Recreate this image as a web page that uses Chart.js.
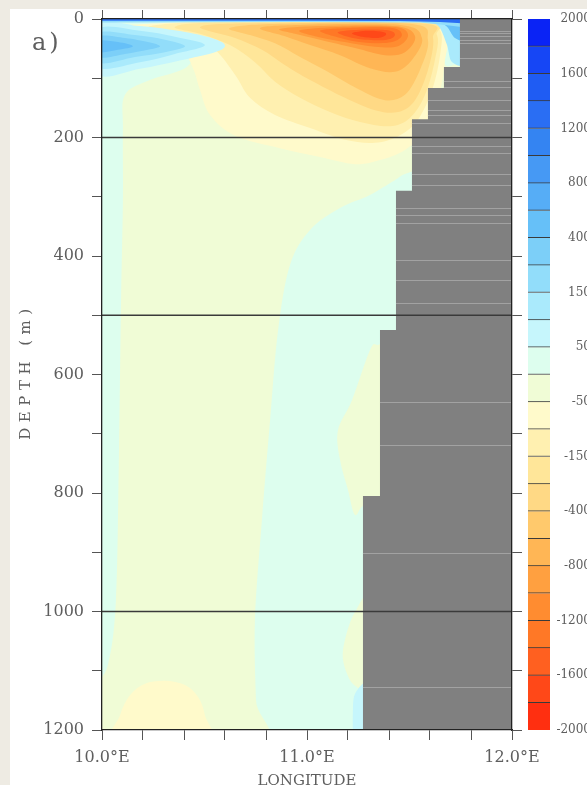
<!DOCTYPE html>
<html>
<head>
<meta charset="utf-8">
<script src="https://cdn.jsdelivr.net/npm/chart.js@4.4.1/dist/chart.umd.min.js"></script>
<style>
  html, body { margin: 0; padding: 0; width: 587px; height: 785px; overflow: hidden; background: #eeebe3; }
  #panel { position: absolute; left: 10px; top: 9px; width: 600px; height: 800px; background: #ffffff; }
  #main { position: absolute; left: 0; top: 0; }
  #bar { position: absolute; left: 518px; top: -9px; }
</style>
</head>
<body>
<div id="panel">
  <canvas id="main" width="560" height="790"></canvas>
  <canvas id="bar" width="70" height="790"></canvas>
</div>
<script>
// ---- contour levels of the section (colour bar boundaries, top to bottom) ----
const levelBounds = [2000, 1800, 1600, 1400, 1200, 1000, 800, 600, 400, 250, 150, 100, 50, 0,
  -50, -100, -150, -250, -400, -600, -800, -1000, -1200, -1400, -1600, -1800, -2000];
const colorbarLabels = ['2000', '1600', '1200', '800', '400', '150', '50', '-50', '-150',
  '-400', '-800', '-1200', '-1600', '-2000'];

// ---- axis ticks ----
const lonLabelValues = [10, 11, 12];
const lonLabels = ['10.0°E', '11.0°E', '12.0°E'];
const depthLabelValues = [0, 200, 400, 600, 800, 1000, 1200];
const refDepths = [200, 500, 1000];

// ---- bottom topography (stepped land mask): depth where each step starts, and its western edge ----
const landStepDepth = [0, 81, 116.5, 169, 290, 525, 805];
const landStepLon = [11.746, 11.668, 11.590, 11.512, 11.434, 11.356, 11.273];
const landLevelDepths = [20, 24, 29, 35, 40, 66, 105, 115, 137, 154, 162, 176, 214, 226, 262, 280,
  319, 331, 344, 407, 440, 479, 646, 719, 901, 1127];

// ---- contour regions [longitude, depth] ----
const below0Main = [[10.112,128],[10.234,103],[10.405,83],[10.478,52],[10.624,19],[10.966,5],[11.551,5],
  [11.649,15],[11.683,44],[11.678,79],[11.795,86],[11.795,238],[11.512,258],[11.429,272],[11.307,297],
  [11.161,319],[11.015,356],[10.917,415],[10.859,525],[10.820,677],[10.780,846],[10.746,1014],
  [10.751,1149],[10.761,1217],[9.966,1217],[9.966,1132],[10.029,1090],[10.068,981],[10.083,727],
  [10.093,474],[10.102,305],[10.102,187]];
const below0Slope = [[11.307,559],[11.346,550],[11.429,559],[11.429,812],[11.283,820],[11.234,837],
  [11.200,795],[11.161,744],[11.151,694],[11.220,643]];
const below0Deep = [[11.307,981],[11.234,1001],[11.185,1048],[11.176,1082],[11.210,1116],[11.259,1132],[11.317,1149]];

const below50 = [[10.078,12],[10.283,7],[10.576,4],[10.966,4],[11.454,4],[11.624,7],[11.688,27],[11.673,69],
  [11.649,120],[11.576,187],[11.478,221],[11.356,238],[11.234,245],[11.063,233],[10.868,218],[10.649,197],
  [10.527,162],[10.478,120],[10.444,83],[10.380,44],[10.283,27],[10.161,19]];
const below50Bottom = [[10.063,1225],[10.088,1175],[10.137,1141],[10.210,1122],[10.307,1117],[10.405,1124],
  [10.468,1144],[10.502,1175],[10.517,1225]];
const below100 = [[10.234,12],[10.478,5],[10.966,5],[11.551,5],[11.649,19],[11.649,61],[11.610,120],
  [11.541,170],[11.454,196],[11.332,209],[11.185,204],[11.015,184],[10.844,162],[10.722,133],[10.649,94],
  [10.551,52],[10.429,29],[10.307,19]];
const below150 = [[10.356,13.5],[10.576,6],[11.551,6],[11.634,27],[11.624,69],[11.576,128],[11.502,167],
  [11.405,181],[11.259,174],[11.112,157],[10.966,133],[10.844,106],[10.746,73],[10.624,44],[10.478,25]];
const below250 = [[10.478,13.5],[10.722,7],[11.551,7],[11.615,32],[11.590,86],[11.527,137],[11.444,157],
  [11.332,154],[11.185,133],[11.015,103],[10.893,78],[10.780,52],[10.649,32]];
const below400 = [[10.624,15],[10.868,8],[11.502,8],[11.590,35],[11.551,86],[11.478,128],[11.380,137],
  [11.259,120],[11.112,91],[10.966,64],[10.844,41],[10.722,27]];
const below600 = [[10.771,15],[10.966,10],[11.454,10],[11.561,32],[11.512,69],[11.429,89],[11.307,83],
  [11.161,61],[11.015,44],[10.893,29]];
const below800 = [[10.868,17],[11.063,12],[11.429,12],[11.527,29],[11.478,56],[11.380,61],[11.234,49],
  [11.063,35],[10.941,25]];
const below1000 = [[10.966,19],[11.161,13.5],[11.429,13.5],[11.493,27],[11.444,46],[11.332,47],[11.185,39],[11.039,29]];
const below1200 = [[11.063,20],[11.210,15],[11.415,15],[11.463,27],[11.415,39],[11.307,40.5],[11.185,34]];
const below1400 = [[11.151,22],[11.259,18],[11.395,19],[11.429,27],[11.390,35],[11.283,35],[11.200,30]];
const below1600 = [[11.220,24],[11.298,20],[11.371,22],[11.385,27],[11.346,32],[11.268,30]];

const above50West = [[9.980,10],[10.185,12],[10.405,22],[10.551,34],[10.600,45],[10.551,56],[10.380,70],[10.185,84],[9.980,93]];
const above100West = [[9.980,17],[10.185,20],[10.356,30],[10.502,44],[10.356,59],[10.185,73],[9.980,81]];
const above150West = [[9.980,24],[10.161,27],[10.307,35],[10.405,46],[10.307,56],[10.161,64],[9.980,73]];
const above250West = [[9.980,30],[10.112,32],[10.224,39],[10.283,46],[10.224,52],[10.112,59],[9.980,64]];
const above400West = [[9.980,37],[10.078,39],[10.151,46],[10.078,52],[9.980,56]];
const above50Deep = [[11.298,1126],[11.239,1136],[11.224,1166],[11.234,1225],[11.307,1225]];
const above100East = [[11.610,0],[11.771,0],[11.771,72.6],[11.707,72.6],[11.683,44],[11.649,15]];
const above400East = [[11.649,0],[11.771,0],[11.771,35],[11.722,32],[11.688,15]];
const above150Surface = [[9.966,-2],[11.795,-2],[11.795,15],[11.673,10],[11.551,6],[10.966,5],[10.000,6],[9.966,6]];
const above1200Surface = [[9.966,-2],[11.795,-2],[11.795,8],[11.649,5],[11.454,3.4],[10.966,3],[9.966,3]];

// ---- colour bar palette, one colour per band between consecutive levelBounds ----
const palette = ['#0a23f5', '#1646f5', '#1f5cf3', '#2a6ef3', '#3484f2', '#4699f4', '#56adf6', '#66c0f8',
  '#7ccff8', '#92ddfa', '#aaeafc', '#c6f6fc', '#ddfeee', '#f0fcd6', '#fffacb', '#fff0b0', '#ffe699',
  '#ffd985', '#ffc96c', '#ffb655', '#ffa040', '#ff8c30', '#ff7826', '#ff6020', '#ff4818', '#ff2f10'];

// colour of the band lying beyond a threshold (above for positive, below for negative/zero)
function bandBeyond(threshold, below) {
  for (let k = 0; k < levelBounds.length - 1; k++) {
    if (below && levelBounds[k] === threshold) return palette[k];
    if (!below && levelBounds[k + 1] === threshold) return palette[k];
  }
  return palette[12];
}

// drawing order of the filled contour regions
const regions = [
  {pts: below0Main, t: 0, below: true},
  {pts: below50, t: -50, below: true},
  {pts: below100, t: -100, below: true},
  {pts: below150, t: -150, below: true},
  {pts: below250, t: -250, below: true},
  {pts: below400, t: -400, below: true},
  {pts: below600, t: -600, below: true},
  {pts: below800, t: -800, below: true},
  {pts: below1000, t: -1000, below: true},
  {pts: below1200, t: -1200, below: true},
  {pts: below1400, t: -1400, below: true},
  {pts: below1600, t: -1600, below: true},
  {pts: below50Bottom, t: -50, below: true},
  {pts: below0Slope, t: 0, below: true},
  {pts: below0Deep, t: 0, below: true},
  {pts: above50West, t: 50, below: false},
  {pts: above100West, t: 100, below: false},
  {pts: above150West, t: 150, below: false},
  {pts: above250West, t: 250, below: false},
  {pts: above400West, t: 400, below: false},
  {pts: above50Deep, t: 50, below: false},
  {pts: above100East, t: 100, below: false},
  {pts: above400East, t: 400, below: false},
  {pts: above150Surface, t: 150, below: false, sharp: true},
  {pts: above1200Surface, t: 1200, below: false, sharp: true}
];

// land polygon from the stepped mask
const landOutline = [[12, -5], [landStepLon[0], -5]];
for (let k = 0; k < landStepDepth.length; k++) {
  const next = k + 1 < landStepDepth.length ? landStepDepth[k + 1] : 1205;
  landOutline.push([landStepLon[k], k === 0 ? -5 : landStepDepth[k]]);
  landOutline.push([landStepLon[k], next]);
}
landOutline.push([12.01, 1205], [12.01, -5]);

const TEXT = '#5e5e5e';
const SERIF = 'DejaVu Serif';

const datasets = regions.map(r => ({
  data: r.pts.map(p => ({x: p[0], y: p[1]})),
  region: true,
  smooth: !r.sharp,
  fillColor: bandBeyond(r.t, r.below),
  showLine: false, pointRadius: 0, pointHoverRadius: 0
}));
datasets.push({
  data: landOutline.map(p => ({x: p[0], y: p[1]})),
  region: true, smooth: false, fillColor: '#808080',
  showLine: false, pointRadius: 0, pointHoverRadius: 0
});
refDepths.forEach(d => datasets.push({
  data: [{x: 10, y: d}, {x: 12, y: d}],
  showLine: true, borderColor: '#3a3a3a', borderWidth: 1.3, pointRadius: 0, pointHoverRadius: 0
}));

// closed Catmull-Rom outline through the element positions
function tracePath(ctx, pts, smooth) {
  const n = pts.length;
  ctx.beginPath();
  ctx.moveTo(pts[0].x, pts[0].y);
  if (!smooth) {
    for (let i = 1; i < n; i++) ctx.lineTo(pts[i].x, pts[i].y);
    ctx.closePath();
    return;
  }
  for (let i = 0; i < n; i++) {
    const p0 = pts[(i - 1 + n) % n], p1 = pts[i], p2 = pts[(i + 1) % n], p3 = pts[(i + 2) % n];
    ctx.bezierCurveTo(p1.x + (p2.x - p0.x) / 6, p1.y + (p2.y - p0.y) / 6,
                      p2.x - (p3.x - p1.x) / 6, p2.y - (p3.y - p1.y) / 6, p2.x, p2.y);
  }
  ctx.closePath();
}

const fieldPlugin = {
  id: 'field',
  beforeDatasetsDraw(chart) {
    const {ctx, chartArea: a, scales} = chart;
    ctx.save();
    ctx.beginPath();
    ctx.rect(a.left, a.top, a.right - a.left, a.bottom - a.top);
    ctx.clip();
    ctx.fillStyle = bandBeyond(0, false);
    ctx.fillRect(a.left, a.top, a.right - a.left, a.bottom - a.top);
    chart.data.datasets.forEach((ds, i) => {
      if (!ds.region) return;
      tracePath(ctx, chart.getDatasetMeta(i).data, ds.smooth);
      ctx.fillStyle = ds.fillColor;
      ctx.fill();
    });
    // model level seams inside the land mask
    ctx.strokeStyle = 'rgba(190,190,190,0.55)';
    ctx.lineWidth = 1;
    landLevelDepths.forEach(d => {
      let k = 0;
      while (k + 1 < landStepDepth.length && landStepDepth[k + 1] <= d) k++;
      const py = Math.round(scales.y.getPixelForValue(d)) + 0.5;
      ctx.beginPath();
      ctx.moveTo(scales.x.getPixelForValue(landStepLon[k]), py);
      ctx.lineTo(scales.x.getPixelForValue(12), py);
      ctx.stroke();
    });
    ctx.restore();
  }
};

const textPlugin = {
  id: 'texts',
  afterDraw(chart) {
    const {ctx, chartArea: a} = chart;
    ctx.save();
    ctx.fillStyle = TEXT;
    ctx.font = '24px "' + SERIF + '"';
    ctx.textBaseline = 'alphabetic';
    ctx.letterSpacing = '3px';
    ctx.fillText('a)', 22, 41);
    ctx.font = '15px "' + SERIF + '"';
    ctx.letterSpacing = '5.5px';
    ctx.translate(16, (a.top + a.bottom) / 2);
    ctx.rotate(-Math.PI / 2);
    ctx.textAlign = 'center';
    ctx.textBaseline = 'middle';
    ctx.fillText('DEPTH (m)', 3, 0);
    ctx.restore();
  }
};

// fixed axis box sizes; tick labels may overhang the corners without shrinking the plot
function fixBox(size) {
  return s => {
    if (s.isHorizontal()) s.height = size; else s.width = size;
    s.paddingLeft = 0; s.paddingRight = 0; s.paddingTop = 0; s.paddingBottom = 0;
  };
}

const tickFont = {family: SERIF, size: 16};
const gridTicks = (len) => ({drawOnChartArea: false, drawTicks: true, tickLength: len, color: '#555', lineWidth: 1, z: 1});
const frame = {display: true, color: '#222', width: 1.3, z: 1};

new Chart(document.getElementById('main'), {
  type: 'scatter',
  data: {datasets},
  options: {
    responsive: false, animation: false, events: [],
    layout: {padding: 0, autoPadding: false},
    plugins: {legend: {display: false}, tooltip: {enabled: false}},
    scales: {
      x: {
        type: 'linear', position: 'bottom', min: 10, max: 12,
        afterFit: fixBox(69),
        ticks: {
          stepSize: 0.2, autoSkip: false, maxRotation: 0, padding: 8, color: TEXT, font: tickFont,
          callback: v => {
            const k = lonLabelValues.findIndex(w => Math.abs(w - v) < 1e-6);
            return k >= 0 ? lonLabels[k] : '';
          }
        },
        grid: gridTicks(10), border: frame,
        title: {display: true, text: 'LONGITUDE', color: TEXT, font: {family: SERIF, size: 15}, padding: {top: 0, bottom: 9}}
      },
      x2: {
        type: 'linear', position: 'top', min: 10, max: 12,
        afterFit: fixBox(10),
        ticks: {display: false, stepSize: 0.2},
        grid: gridTicks(9), border: frame
      },
      y: {
        type: 'linear', position: 'left', reverse: true, min: 0, max: 1200,
        afterFit: fixBox(92),
        ticks: {
          stepSize: 100, autoSkip: false, padding: 8, color: TEXT, font: tickFont,
          callback: v => depthLabelValues.includes(v) ? String(v) : ''
        },
        grid: gridTicks(10), border: frame
      },
      y2: {
        type: 'linear', position: 'right', reverse: true, min: 0, max: 1200,
        afterFit: fixBox(58),
        ticks: {display: false, stepSize: 100},
        grid: gridTicks(10), border: frame
      }
    }
  },
  plugins: [fieldPlugin, textPlugin]
});

// ---- colour bar ----
const boxIndex = palette.map((c, i) => i);
new Chart(document.getElementById('bar'), {
  type: 'bar',
  data: {
    labels: [''],
    datasets: boxIndex.map(i => ({
      data: [[i, i + 1]],
      backgroundColor: palette[i],
      borderColor: '#3a3a3a',
      borderWidth: {top: 0, bottom: i < palette.length - 1 ? 1 : 0, left: 0, right: 0},
      borderSkipped: false,
      barPercentage: 1, categoryPercentage: 1
    }))
  },
  options: {
    responsive: false, animation: false, events: [],
    layout: {padding: {top: 19, bottom: 60, left: 0, right: 7}, autoPadding: false},
    plugins: {legend: {display: false}, tooltip: {enabled: false}},
    scales: {
      x: {stacked: true, display: false},
      y: {
        type: 'linear', position: 'right', reverse: true, min: 0, max: levelBounds.length - 1,
        afterFit: fixBox(41),
        afterBuildTicks: s => { s.ticks = colorbarLabels.map((l, k) => ({value: 2 * k})); },
        ticks: {
          crossAlign: 'far', padding: 0, color: TEXT, font: {family: SERIF, size: 12},
          callback: v => colorbarLabels[v / 2]
        },
        grid: {display: false}, border: {display: false}
      }
    }
  }
});
</script>
</body>
</html>
